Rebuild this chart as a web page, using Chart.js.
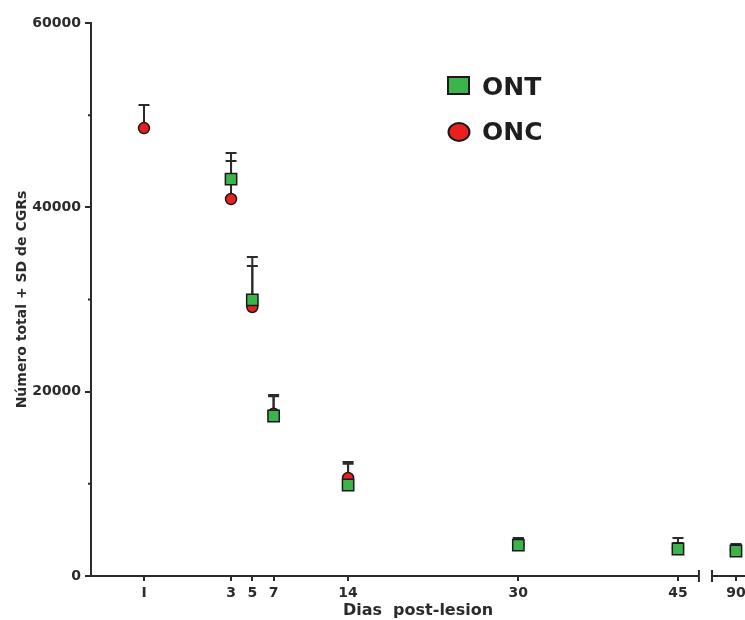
<!DOCTYPE html>
<html>
<head>
<meta charset="utf-8">
<script src="https://cdn.jsdelivr.net/npm/chart.js@4.4.1/dist/chart.umd.min.js"></script>
<style>
  html, body { margin: 0; padding: 0; background: #fff; overflow: hidden; }
  #wrap { width: 745px; height: 620px; }
</style>
</head>
<body>
<div id="wrap"><canvas id="c" width="745" height="620"></canvas></div>
<script>
// ---- data ----
const dayLabels = ['I', '3', '5', '7', '14', '30', '45', '90'];
const ontMean = [null, 43070, 29950, 17360, 9870, 3360, 2930, 2710];
const ontSD   = [null, 2830, 4650, 2280, 2300, 760, 1190, 760];
const oncMean = [48600, 40900, 29190, 17600, 10630, 3400, 3000, 2800];
const oncSD   = [2500, 4130, 4450, 1900, 1740, 600, 580, 500];
const yTicks  = [0, 20000, 40000, 60000];

// broken x axis: intact group placed left of day 3, day 90 placed after the break
const BREAK_FROM = 46.97, BREAK_TO = 48.2;
function axisPos(label) {
  if (label === 'I') return -5.18;
  const d = Number(label);
  if (d > 45) return 50.45;
  return d;
}
const xPositions = dayLabels.map(axisPos);

function pts(means, sds) {
  return dayLabels.map((l, i) => means[i] == null ? null : ({ x: axisPos(l), y: means[i], sd: sds[i] }))
    .filter(p => p);
}

const INK = '#2b2b2b';
const FONT = 'DejaVu Sans';

const errorBars = {
  id: 'errorBars',
  beforeDatasetsDraw(chart) {
    const { ctx, scales: { x, y } } = chart;
    ctx.save();
    ctx.strokeStyle = INK;
    ctx.lineWidth = 2;
    chart.data.datasets.forEach(ds => {
      ds.data.forEach(p => {
        if (!p.sd) return;
        const px = x.getPixelForValue(p.x);
        const py = y.getPixelForValue(p.y);
        const pt = y.getPixelForValue(p.y + p.sd);
        ctx.beginPath();
        ctx.moveTo(px, py);
        ctx.lineTo(px, pt);
        ctx.moveTo(px - 5.5, pt);
        ctx.lineTo(px + 5.5, pt);
        ctx.stroke();
      });
    });
    ctx.restore();
  }
};

const axesDecor = {
  id: 'axesDecor',
  afterDraw(chart) {
    const { ctx, chartArea, scales: { x, y } } = chart;
    ctx.save();
    ctx.strokeStyle = INK;
    ctx.lineWidth = 2;
    const yb = y.getPixelForValue(0);
    const bl = x.getPixelForValue(BREAK_FROM);
    const br = x.getPixelForValue(BREAK_TO);
    ctx.beginPath();
    ctx.moveTo(chartArea.left - 1, yb);
    ctx.lineTo(bl, yb);
    ctx.moveTo(br, yb);
    ctx.lineTo(chart.width, yb);
    ctx.moveTo(bl, yb - 6); ctx.lineTo(bl, yb + 6);
    ctx.moveTo(br, yb - 6); ctx.lineTo(br, yb + 6);
    // minor y ticks
    [10000, 30000, 50000].forEach(v => {
      const py = y.getPixelForValue(v);
      ctx.moveTo(chartArea.left - 3, py);
      ctx.lineTo(chartArea.left, py);
    });
    ctx.stroke();

    // legend
    const ont = chart.data.datasets[0], onc = chart.data.datasets[1];
    ctx.lineWidth = 2;
    ctx.strokeStyle = '#1a1a1a';
    ctx.fillStyle = ont.backgroundColor;
    ctx.fillRect(448, 77, 21, 17);
    ctx.strokeRect(448, 77, 21, 17);
    ctx.beginPath();
    ctx.fillStyle = onc.backgroundColor;
    ctx.ellipse(459, 132, 10.5, 9, 0, 0, Math.PI * 2);
    ctx.fill();
    ctx.stroke();
    ctx.fillStyle = '#1e1e1e';
    ctx.font = 'bold 25px "' + FONT + '"';
    ctx.textBaseline = 'middle';
    ctx.textAlign = 'left';
    ctx.fillText(ont.label, 482, 88);
    ctx.fillText(onc.label, 482, 133);
    ctx.restore();
  }
};

new Chart(document.getElementById('c'), {
  type: 'scatter',
  data: {
    datasets: [
      {
        label: 'ONT',
        data: pts(ontMean, ontSD),
        pointStyle: 'rect',
        pointRadius: 8,
        pointHoverRadius: 8,
        backgroundColor: '#3cb44b',
        borderColor: '#1a1a1a',
        borderWidth: 1.5,
        showLine: false
      },
      {
        label: 'ONC',
        data: pts(oncMean, oncSD),
        pointStyle: 'circle',
        pointRadius: 5.5,
        pointHoverRadius: 5.5,
        backgroundColor: '#e8201f',
        borderColor: '#1a1a1a',
        borderWidth: 1.5,
        showLine: false
      }
    ]
  },
  options: {
    responsive: false,
    animation: false,
    devicePixelRatio: 1,
    layout: { autoPadding: false, padding: { top: 23, left: 0, right: 0, bottom: 0 } },
    plugins: { legend: { display: false }, tooltip: { enabled: false } },
    scales: {
      x: {
        type: 'linear',
        min: -10.16,
        max: 51.3,
        afterFit(s) { s.height = 44; s.paddingLeft = 0; s.paddingRight = 0; },
        afterBuildTicks(s) { s.ticks = xPositions.map(v => ({ value: v })); },
        ticks: {
          autoSkip: false,
          maxRotation: 0,
          padding: 4,
          color: INK,
          font: { family: FONT, size: 14, weight: 'bold' },
          callback(v) { const i = xPositions.indexOf(v); return i >= 0 ? dayLabels[i] : ''; }
        },
        grid: { drawOnChartArea: false, drawTicks: true, tickLength: 5, color: INK, lineWidth: 2 },
        border: { display: false },
        title: {
          display: true,
          text: 'Dias  post-lesion',
          color: INK,
          font: { family: FONT, size: 16, weight: 'bold' },
          padding: { top: 0, bottom: 0 }
        }
      },
      y: {
        min: 0,
        max: 60000,
        afterFit(s) { s.width = 91; s.paddingTop = 0; s.paddingBottom = 0; },
        afterBuildTicks(s) { s.ticks = yTicks.map(v => ({ value: v })); },
        ticks: {
          padding: 4,
          color: INK,
          font: { family: FONT, size: 14, weight: 'bold' },
          callback(v) { return String(v); }
        },
        grid: { drawOnChartArea: false, drawTicks: true, tickLength: 6, color: INK, lineWidth: 2 },
        border: { display: true, color: INK, width: 2 },
        title: {
          display: true,
          text: 'Número total + SD de CGRs',
          color: INK,
          font: { family: FONT, size: 14, weight: 'bold' },
          padding: { top: 14, bottom: 0 }
        }
      }
    }
  },
  plugins: [errorBars, axesDecor]
});
</script>
</body>
</html>
